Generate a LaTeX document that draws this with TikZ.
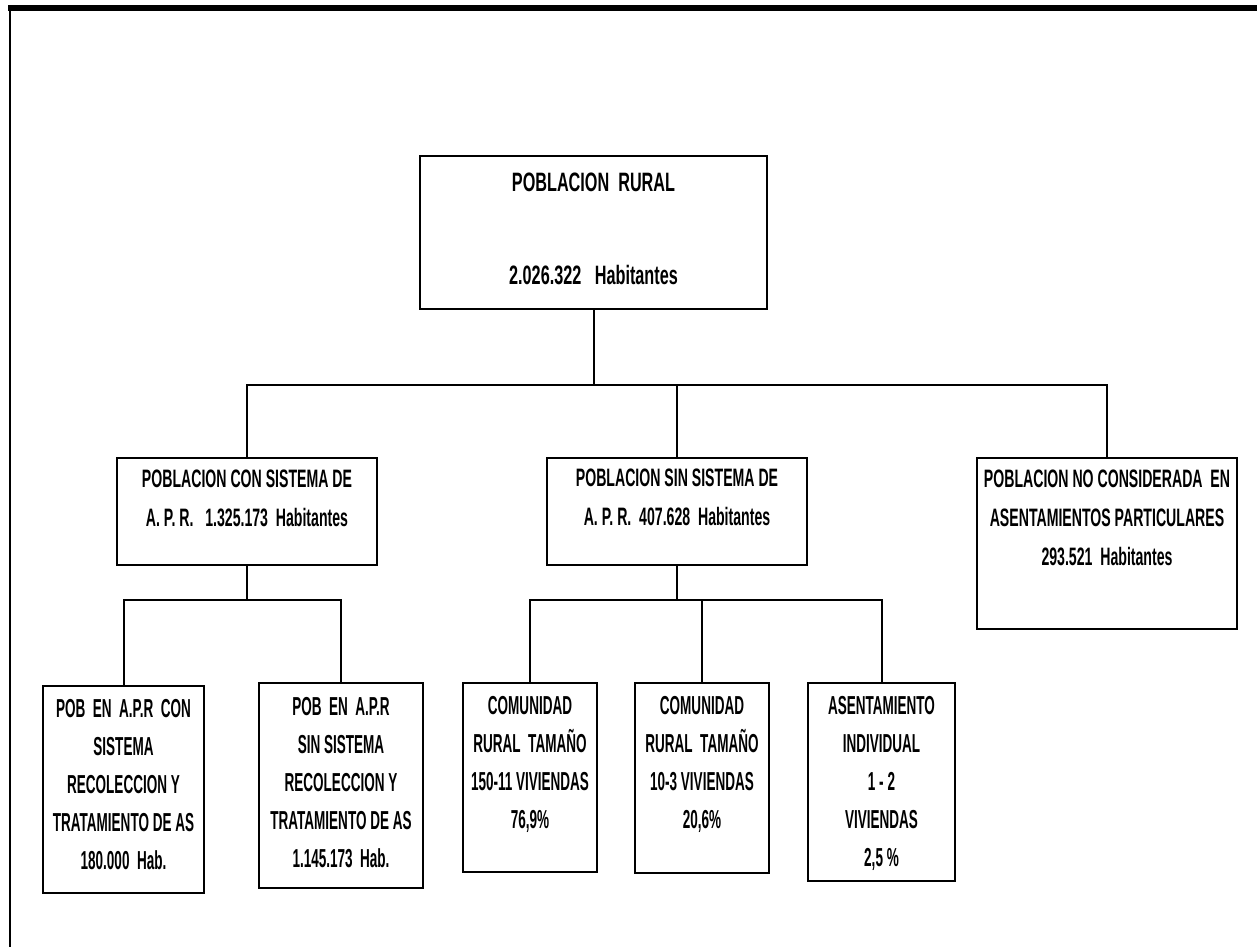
\documentclass[tikz,border=0pt]{standalone}
\usepackage{fontspec}
\newfontfamily\widesans{Liberation Sans}[FakeStretch=0.61]
\newfontfamily\midsans{Liberation Sans}[FakeStretch=0.56]
\newfontfamily\narrowsans{Liberation Sans}[FakeStretch=0.52]
\usetikzlibrary{positioning}

\begin{document}
\begin{tikzpicture}[x=0.5pt,y=-0.5pt,line width=1pt,
    box/.style={draw,inner sep=0pt},
    roottext/.style={inner sep=0pt,align=center,font=\widesans\bfseries\fontsize{13.3}{46.5}\selectfont},
    midtext/.style={inner sep=0pt,align=center,font=\midsans\bfseries\fontsize{12.6}{19.5}\selectfont},
    leaftext/.style={inner sep=0pt,align=center,font=\narrowsans\bfseries\fontsize{13}{19}\selectfont}]
  \useasboundingbox (0,0) rectangle (1257,947);
  % marco de la pagina
  \fill (8,5) rectangle (1257,11);
  \draw (10,11) -- (10,947);
  % cajas
  \node[box,minimum width=173.5pt,minimum height=76.5pt] (rural) at (593.5,232.5) {};
  \node[box,minimum width=130pt,minimum height=53.5pt] (apr) at (247,511.5) {};
  \node[box,minimum width=130pt,minimum height=53.5pt] (sinapr) at (677,511.5) {};
  \node[box,minimum width=130pt,minimum height=85.5pt] (nocons) at (1107,543.5) {};
  \node[box,minimum width=80.5pt,minimum height=103.5pt] (aprcon) at (123.5,789.5) {};
  \node[box,minimum width=82pt,minimum height=102.5pt] (aprsin) at (341,785.5) {};
  \node[box,minimum width=67pt,minimum height=94.5pt] (comgde) at (530,777.5) {};
  \node[box,minimum width=67pt,minimum height=95pt] (comchi) at (702,778) {};
  \node[box,minimum width=73.5pt,minimum height=99pt] (indiv) at (881.5,782) {};
  % textos
  \node[roottext,below=8.5pt of rural.north] (ruraltxt) {POBLACION\ \ RURAL\\2.026.322\ \ \ Habitantes};
  \node[midtext,below=6pt of apr.north] (aprtxt) {POBLACION CON SISTEMA DE\\A. P. R.\ \ \ 1.325.173\ \ Habitantes};
  \node[midtext,below=5.5pt of sinapr.north] (sinaprtxt) {POBLACION SIN SISTEMA DE\\A. P. R.\ \ 407.628\ \ Habitantes};
  \node[midtext,below=6pt of nocons.north] (noconstxt) {POBLACION NO CONSIDERADA\ \ EN\\ASENTAMIENTOS PARTICULARES\\293.521\ \ Habitantes};
  \node[leaftext,below=6.5pt of aprcon.north] (aprcontxt) {POB\ \ EN\ \ A.P.R\ \ CON\\SISTEMA\\RECOLECCION Y\\TRATAMIENTO DE AS\\180.000\ \ Hab.};
  \node[leaftext,below=7pt of aprsin.north] (aprsintxt) {POB\ \ EN\ \ A.P.R\\SIN SISTEMA\\RECOLECCION Y\\TRATAMIENTO DE AS\\1.145.173\ \ Hab.};
  \node[leaftext,below=6.5pt of comgde.north] (comgdetxt) {COMUNIDAD\\RURAL\ \ TAMAÑO\\150-11 VIVIENDAS\\76,9\%};
  \node[leaftext,below=6.5pt of comchi.north] (comchitxt) {COMUNIDAD\\RURAL\ \ TAMAÑO\\10-3 VIVIENDAS\\20,6\%};
  \node[leaftext,below=6.5pt of indiv.north] (indivtxt) {ASENTAMIENTO\\INDIVIDUAL\\1 - 2\\VIVIENDAS\\2,5 \%};
  % conectores
  \coordinate (bar) at (0,385);
  \coordinate (barapr) at (0,600);
  \coordinate (barsin) at (0,600);
  \draw (rural.south) -- (rural.south |- bar);
  \draw (apr.north) -- (apr.north |- bar) -- (nocons.north |- bar) -- (nocons.north);
  \draw (sinapr.north) -- (sinapr.north |- bar);
  \draw (apr.south) -- (apr.south |- barapr);
  \draw (aprcon.north) -- (aprcon.north |- barapr) -- (aprsin.north |- barapr) -- (aprsin.north);
  \draw (sinapr.south) -- (sinapr.south |- barsin);
  \draw (comgde.north) -- (comgde.north |- barsin) -- (indiv.north |- barsin) -- (indiv.north);
  \draw (comchi.north) -- (comchi.north |- barsin);
\end{tikzpicture}
\end{document}
